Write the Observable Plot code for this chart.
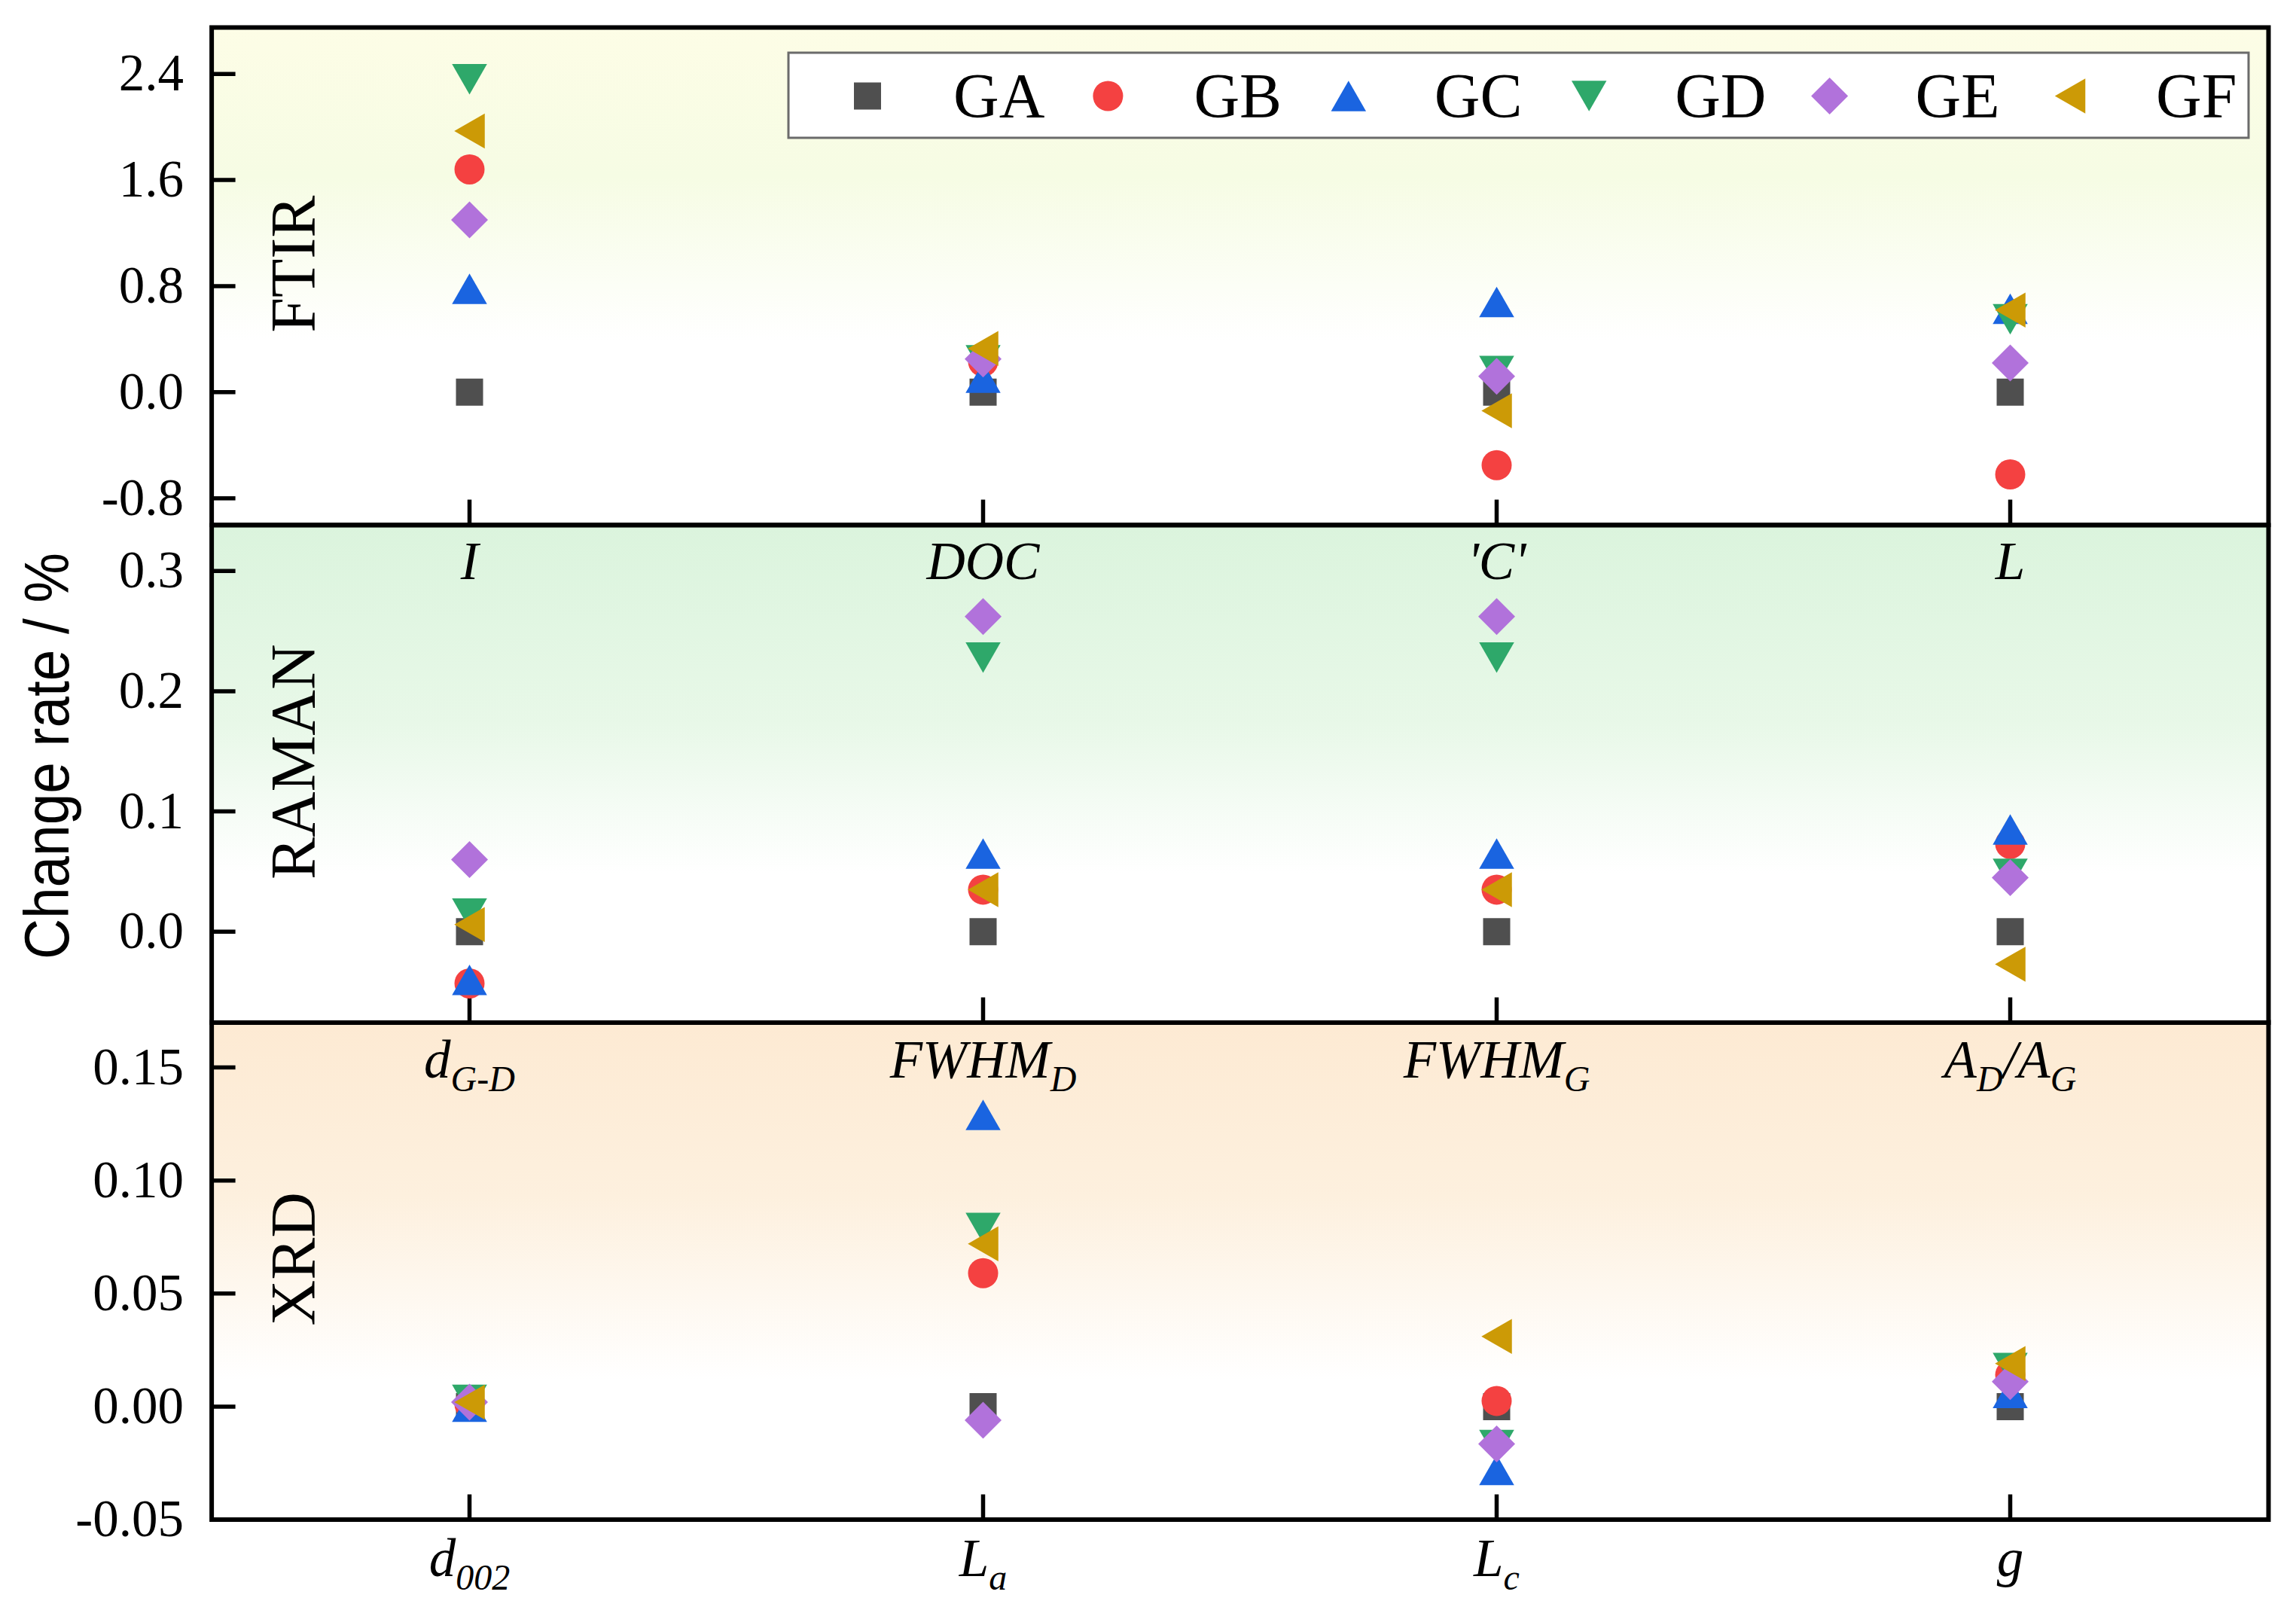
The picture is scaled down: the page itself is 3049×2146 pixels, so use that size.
<!DOCTYPE html>
<html><head><meta charset="utf-8">
<script src="https://cdn.jsdelivr.net/npm/d3@7"></script>
<script src="https://cdn.jsdelivr.net/npm/@observablehq/plot@0.6"></script>
<style>
html,body{margin:0;padding:0;background:#fff;}
#chart{position:relative;width:3049px;height:2146px;overflow:hidden;background:#fff;}
#chart svg{position:absolute;left:0;}
</style></head><body><div id="chart"></div>
<script>
// ---------------- data ----------------
const groups = ["GA","GB","GC","GD","GE","GF"];
const groupColors = ["#4f4f4f","#f44141","#1a64e0","#2ea86a","#b172db","#cc9a06"];

const ftirCategories = ["I","DOC","'C'","L"];
const ftirLabels = ["I","DOC","'C'","L"];
const ftirTicks = [-0.8, 0, 0.8, 1.6, 2.4];
const ftirDomain = [-1.0, 2.75];
// rows: GA..GF ; columns: categories
const ftirValues = [
  [0, 0, 0, 0],
  [1.68, 0.23, -0.55, -0.62],
  [0.78, 0.11, 0.68, 0.63],
  [2.36, 0.24, 0.16, 0.55],
  [1.30, 0.25, 0.12, 0.22],
  [1.97, 0.33, -0.14, 0.62]
];

const ramanCategories = ["dG-D","FWHMD","FWHMG","AD/AG"];
const ramanLabels = ["d_{G-D}","FWHM_{D}","FWHM_{G}","A_{D}/A_{G}"];
const ramanTicks = [0, 0.1, 0.2, 0.3];
const ramanDomain = [-0.0756, 0.338];
const ramanValues = [
  [0, 0, 0, 0],
  [-0.043, 0.035, 0.035, 0.073],
  [-0.040, 0.065, 0.065, 0.085],
  [0.015, 0.228, 0.228, 0.048],
  [0.060, 0.262, 0.262, 0.045],
  [0.006, 0.035, 0.035, -0.027]
];

const xrdCategories = ["d002","La","Lc","g"];
const xrdLabels = ["d_{002}","L_{a}","L_{c}","g"];
const xrdTicks = [-0.05, 0, 0.05, 0.10, 0.15];
const xrdDomain = [-0.05, 0.17];
const xrdValues = [
  [0, 0, 0, 0],
  [0.001, 0.059, 0.0025, 0.014],
  [0.000, 0.129, -0.028, 0.006],
  [0.003, 0.079, -0.017, 0.017],
  [0.002, -0.006, -0.0165, 0.011],
  [0.002, 0.072, 0.031, 0.019]
];

const yTitle = "Change rate / %";

// ---------------- style ----------------
const SERIF = "'Liberation Serif','Times New Roman',serif";
const SANS = "'Liberation Sans',Arial,sans-serif";
const W = 3049, ML = 280.6, MR = 37, MT = 36, H = 660.5, MB = 128;
const R = 25;

// custom symbols
const rad = size => Math.sqrt(size / Math.PI);
const symSquare = {draw(c, s){const r=rad(s), h=0.72*r; c.moveTo(-h,-h); c.lineTo(h,-h); c.lineTo(h,h); c.lineTo(-h,h); c.closePath();}};
const symCircle = {draw(c, s){const r=rad(s)*0.8; c.moveTo(r,0); c.arc(0,0,r,0,2*Math.PI); c.closePath();}};
const symTriUp = {draw(c, s){const r=rad(s), hw=0.93*r, hh=0.81*r; c.moveTo(0,-hh); c.lineTo(hw,hh); c.lineTo(-hw,hh); c.closePath();}};
const symTriDown = {draw(c, s){const r=rad(s), hw=0.93*r, hh=0.81*r; c.moveTo(0,hh); c.lineTo(hw,-hh); c.lineTo(-hw,-hh); c.closePath();}};
const symDiamond = {draw(c, s){const d=rad(s)*0.98; c.moveTo(0,-d); c.lineTo(d,0); c.lineTo(0,d); c.lineTo(-d,0); c.closePath();}};
const symTriLeft = {draw(c, s){const r=rad(s), hw=0.81*r, hh=0.93*r; c.moveTo(-hw,0); c.lineTo(hw,-hh); c.lineTo(hw,hh); c.closePath();}};
const groupSymbols = [symSquare, symCircle, symTriUp, symTriDown, symDiamond, symTriLeft];

const svgNS = "http://www.w3.org/2000/svg";

function applySubscripts(svg, fontSize) {
  const subSize = Math.round(fontSize * 0.68);
  const shift = Math.round(fontSize * 0.26);
  svg.querySelectorAll("text").forEach(el => {
    const t = el.textContent;
    if (!t.includes("_{")) return;
    const parts = t.split(/(_\{[^}]*\})/).filter(s => s.length);
    el.textContent = "";
    let down = false;
    for (const p of parts) {
      const ts = document.createElementNS(svgNS, "tspan");
      if (p.startsWith("_{")) {
        ts.textContent = p.slice(2, -1);
        ts.setAttribute("font-size", subSize);
        if (!down) { ts.setAttribute("dy", shift); down = true; }
      } else {
        ts.textContent = p;
        if (down) { ts.setAttribute("dy", -shift); down = false; }
      }
      el.appendChild(ts);
    }
  });
}

function panel({name, categories, labels, ticks, domain, values, decimals, gradId, stops, top, z, labelPad}) {
  const data = [];
  groups.forEach((g, gi) => categories.forEach((c, ci) => data.push({group: g, cat: c, value: values[gi][ci]})));
  const labelOf = new Map(categories.map((c, i) => [c, labels[i]]));
  const defsMark = () => {
    const defs = d3.create("svg:defs");
    const lg = defs.append("linearGradient").attr("id", gradId).attr("x1", 0).attr("y1", 0).attr("x2", 0).attr("y2", 1);
    stops.forEach(([o, col]) => lg.append("stop").attr("offset", o).attr("stop-color", col));
    return defs.node();
  };
  const svg = Plot.plot({
    width: W, height: MT + H + MB,
    marginLeft: ML, marginRight: MR, marginTop: MT, marginBottom: MB,
    style: {background: "transparent", overflow: "visible"},
    x: {type: "point", domain: categories, padding: 0.5},
    y: {domain},
    symbol: {domain: groups, range: groupSymbols},
    color: {domain: groups, range: groupColors},
    marks: [
      defsMark,
      Plot.frame({fill: `url(#${gradId})`}),
      Plot.axisX({tickSize: -33, strokeWidth: 5.5, tickFormat: () => "", label: null}),
      Plot.axisX({tickSize: 0, tickPadding: labelPad, tickFormat: d => labelOf.get(d), fontSize: 71, fontStyle: "italic", fontFamily: SERIF, label: null}),
      Plot.axisY({ticks, tickSize: -32, strokeWidth: 5.5, tickFormat: () => "", label: null}),
      Plot.axisY({ticks, tickSize: 0, tickPadding: 37, tickFormat: d => d.toFixed(decimals), fontSize: 69, fontFamily: SERIF, label: null}),
      Plot.text([name], {text: d => d, frameAnchor: "left", textAnchor: "middle", dx: 137, dy: -16, rotate: -90, lineAnchor: "bottom", fontSize: 84, fontFamily: SERIF, fill: "black"}),
      Plot.dot(data, {x: "cat", y: "value", symbol: "group", fill: "group", r: R}),
      Plot.frame({stroke: "black", strokeWidth: 6})
    ]
  });
  svg.style.top = top + "px";
  svg.style.zIndex = z;
  applySubscripts(svg, 71);
  return svg;
}

const chart = document.getElementById("chart");
chart.appendChild(panel({name: "XRD", categories: xrdCategories, labels: xrdLabels, ticks: xrdTicks, domain: xrdDomain,
  values: xrdValues, decimals: 2, gradId: "gradXRD", top: 2 * H, z: 1, labelPad: 25,
  stops: [[0, "#fdead3"], [0.35, "#fdf0de"], [0.72, "#ffffff"], [1, "#ffffff"]]}));
chart.appendChild(panel({name: "RAMAN", categories: ramanCategories, labels: ramanLabels, ticks: ramanTicks, domain: ramanDomain,
  values: ramanValues, decimals: 1, gradId: "gradRAMAN", top: H, z: 2, labelPad: 23,
  stops: [[0, "#dbf4dd"], [0.4, "#e8f8e8"], [0.7, "#ffffff"], [1, "#ffffff"]]}));
chart.appendChild(panel({name: "FTIR", categories: ftirCategories, labels: ftirLabels, ticks: ftirTicks, domain: ftirDomain,
  values: ftirValues, decimals: 1, gradId: "gradFTIR", top: 0, z: 3, labelPad: 22,
  stops: [[0, "#fdfde6"], [0.3, "#f6fce4"], [0.63, "#ffffff"], [1, "#ffffff"]]}));

// legend (inside the FTIR panel)
const LX = 1047, LY = 70, LW = 1939, LH = 113;
const legend = d3.select(chart).append("svg")
  .attr("width", LW + 4).attr("height", LH + 4)
  .style("left", (LX - 2) + "px").style("top", (LY - 2) + "px").style("z-index", 5);
legend.append("rect").attr("x", 2).attr("y", 2).attr("width", LW).attr("height", LH)
  .attr("fill", "white").attr("stroke", "#6b6b6b").attr("stroke-width", 3);
groups.forEach((g, i) => {
  const mx = 2 + 105 + i * 319.4;
  legend.append("path").attr("transform", `translate(${mx},${2 + 57.5})`)
    .attr("d", d3.symbol(groupSymbols[i], Math.PI * R * R)()).attr("fill", groupColors[i]);
  legend.append("text").attr("x", mx + 114).attr("y", 2 + 86).text(g)
    .attr("font-family", SERIF).attr("font-size", 84).attr("fill", "black");
});

// y-axis title
const over = d3.select(chart).append("svg").attr("width", W).attr("height", 2146)
  .style("top", "0px").style("z-index", 6).style("pointer-events", "none");
over.append("text").attr("transform", "translate(91,1004) rotate(-90)")
  .attr("text-anchor", "middle").attr("font-family", SANS).attr("font-size", 84)
  .attr("textLength", 540).attr("lengthAdjust", "spacingAndGlyphs").attr("fill", "black")
  .text(yTitle);
</script></body></html>
